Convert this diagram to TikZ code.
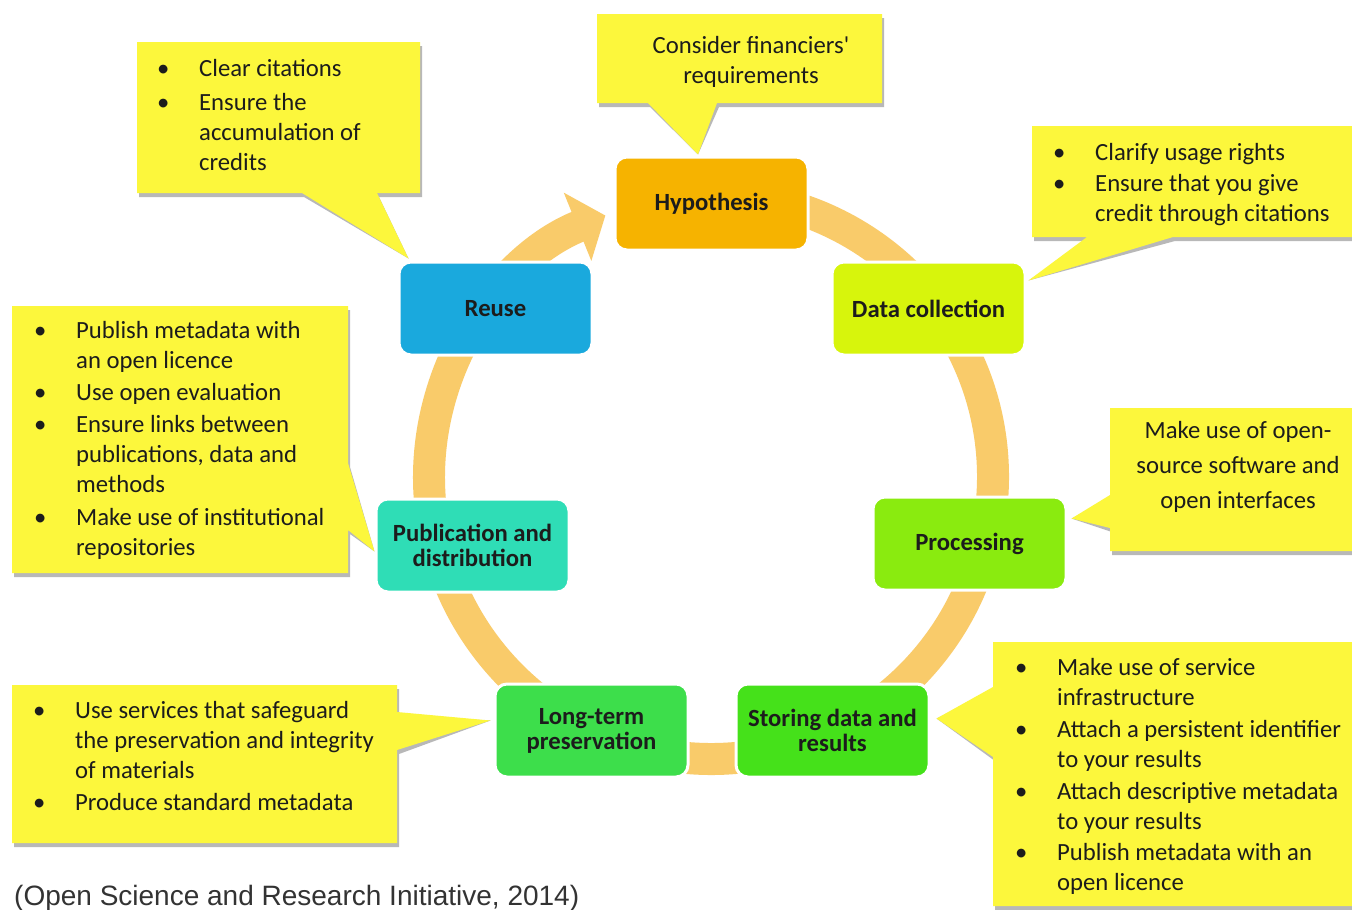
\documentclass[tikz,border=0pt]{standalone}
\usepackage{fontspec}
\setmainfont{Carlito}
\newfontfamily\citefont{Liberation Sans}
\usetikzlibrary{arrows.meta,calc}
\pgfdeclarelayer{bg}
\pgfsetlayers{bg,main}
\definecolor{ringc}{HTML}{F9CB6A}
\definecolor{hypc}{HTML}{F6B300}
\definecolor{datac}{HTML}{D7F50C}
\definecolor{procc}{HTML}{8AEB0F}
\definecolor{storc}{HTML}{45E11A}
\definecolor{longc}{HTML}{3DDE4B}
\definecolor{pubc}{HTML}{2FDDB6}
\definecolor{reusec}{HTML}{1AA9DD}
\definecolor{callc}{HTML}{FCF73C}
\definecolor{txtc}{HTML}{1C1C1C}
\newcommand{\bi}{\strut\makebox[42pt][l]{\textbullet}}
\newcommand{\ci}{\strut\hspace*{42pt}}
\newcommand{\callout}[1]{\fill[black!28,shift={(2,4)}] #1; \fill[callc] #1;}
\begin{document}
\begin{tikzpicture}[x=1pt,y=-1pt,
  stage/.style={rounded corners=12pt, draw=white, line width=3pt, minimum width=193pt, minimum height=93pt, align=center, text=txtc, font=\bfseries\fontsize{24.7}{25}\selectfont, inner sep=2pt},
  note/.style={inner sep=0pt, anchor=north west, align=left, text=txtc, font=\fontsize{24.7}{30}\selectfont},
  notec/.style={inner sep=0pt, anchor=north, align=center, text=txtc, font=\fontsize{24.7}{30}\selectfont}]
\useasboundingbox (0,0) rectangle (1352,910);

% stages
\node[stage, fill=hypc] (hyp) at (711.5,203.5) {Hypothesis};
\node[stage, fill=datac] (data) at (928.5,308.5) {Data collection};
\node[stage, fill=procc] (proc) at (969.5,543.5) {Processing};
\node[stage, fill=storc] (stor) at (832.5,730.5) {Storing data and\\results};
\node[stage, fill=longc] (long) at (591.5,730.5) {Long-term\\preservation};
\node[stage, fill=pubc] (pub) at (472.5,545.5) {Publication and\\distribution};
\node[stage, fill=reusec] (reuse) at (495.5,308.5) {Reuse};

% callout texts
\node[notec] (c1) at (751,32) {\strut Consider financiers\textquotesingle\\\strut requirements};
\node[note] (c2) at (157,55) {\bi Clear citations\\[4pt]\bi Ensure the\\\ci accumulation of\\\ci credits};
\node[note] (c3) at (1053,139) {\bi Clarify usage rights\\[1pt]\bi Ensure that you give\\\ci credit through citations};
\node[notec] (c4) at (1238,417) {\strut Make use of open-\\[5pt]\strut source software and\\[5pt]\strut open interfaces};
\node[note] (c5) at (1015,654) {\bi Make use of service\\\ci infrastructure\\[2pt]\bi Attach a persistent identifier\\\ci to your results\\[2pt]\bi Attach descriptive metadata\\\ci to your results\\[1pt]\bi Publish metadata with an\\\ci open licence};
\node[note] (c6) at (34,317) {\bi Publish metadata with\\\ci an open licence\\[2pt]\bi Use open evaluation\\[2pt]\bi Ensure links between\\\ci publications, data and\\\ci methods\\[3pt]\bi Make use of institutional\\\ci repositories};
\node[note] (c7) at (33,697) {\bi Use services that safeguard\\\ci the preservation and integrity\\\ci of materials\\[2pt]\bi Produce standard metadata};

\node[anchor=base west, inner sep=0pt, font=\citefont\fontsize{28}{28}\selectfont, text=black!80] (cite) at (14,905) {(Open Science and Research Initiative, 2014)};

\begin{pgfonlayer}{bg}
\fill[white] (0,0) rectangle (1352,910);
% cycle ring
\draw[ringc, line width=32pt, -{Triangle[length=30pt,width=72pt]}] (711,477) ++(275:282) arc[start angle=275, end angle=608, radius=282];
% callout shapes
\callout{(597,14) -- (882,14) -- (882,103) -- (717,103) -- ($(hyp.north)+(-13.5,-1)$) -- (648,103) -- (597,103) -- cycle}
\callout{(137,42) -- (420,42) -- (420,193) -- (377,193) -- ($(reuse.north west)+(11,-2)$) -- (302,193) -- (137,193) -- cycle}
\callout{(1032,126) -- (1360,126) -- (1360,237) -- (1173,237) -- ($(data.north east)+(2,20)$) -- (1087,237) -- (1032,237) -- cycle}
\callout{(1110,408) -- (1360,408) -- (1360,551) -- (1110,551) -- (1110,528) -- ($(proc.east)+(4,-25)$) -- (1110,495) -- cycle}
\callout{(993,642) -- (1360,642) -- (1360,906) -- (993,906) -- (993,757) -- ($(stor.east)+(6,-12)$) -- (993,687) -- cycle}
\callout{(12,306) -- (348,306) -- (348,463) -- ($(pub.west)+(0,6)$) -- (348,530) -- (348,573) -- (12,573) -- cycle}
\callout{(12,685) -- (397,685) -- (397,712) -- ($(long.west)+(-3,-10)$) -- (397,750) -- (397,843) -- (12,843) -- cycle}
\end{pgfonlayer}
\end{tikzpicture}
\end{document}
